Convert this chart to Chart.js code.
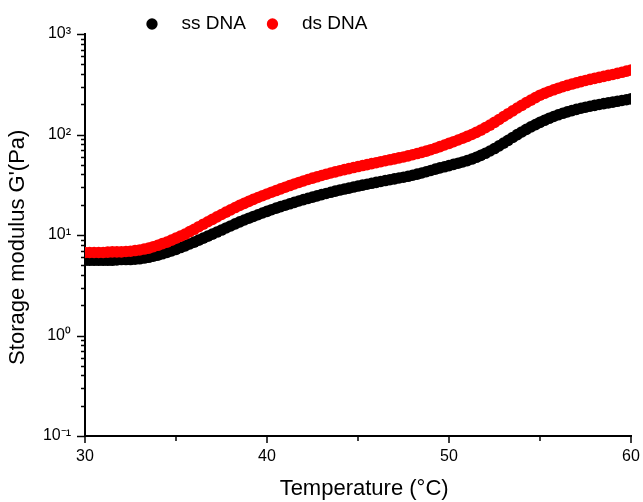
<!DOCTYPE html>
<html lang="en">
<head>
  <meta charset="UTF-8">
  <title>Storage modulus vs temperature</title>
  <script src="https://cdn.jsdelivr.net/npm/chart.js"></script>
  <style>
    body {
      margin: 0;
      padding: 0;
      background: #fff;
    }
    canvas {
      display: block;
    }
  </style>
</head>
<body>
  <canvas id="chart" width="643" height="502"></canvas>

  <script>
    // Temperature sweep (°C)
    const temps = [
      30, 30.25, 30.5, 30.75, 31, 31.25, 31.5, 31.75, 32, 32.25,
      32.5, 32.75, 33, 33.25, 33.5, 33.75, 34, 34.25, 34.5, 34.75,
      35, 35.25, 35.5, 35.75, 36, 36.25, 36.5, 36.75, 37, 37.25,
      37.5, 37.75, 38, 38.25, 38.5, 38.75, 39, 39.25, 39.5, 39.75,
      40, 40.25, 40.5, 40.75, 41, 41.25, 41.5, 41.75, 42, 42.25,
      42.5, 42.75, 43, 43.25, 43.5, 43.75, 44, 44.25, 44.5, 44.75,
      45, 45.25, 45.5, 45.75, 46, 46.25, 46.5, 46.75, 47, 47.25,
      47.5, 47.75, 48, 48.25, 48.5, 48.75, 49, 49.25, 49.5, 49.75,
      50, 50.25, 50.5, 50.75, 51, 51.25, 51.5, 51.75, 52, 52.25,
      52.5, 52.75, 53, 53.25, 53.5, 53.75, 54, 54.25, 54.5, 54.75,
      55, 55.25, 55.5, 55.75, 56, 56.25, 56.5, 56.75, 57, 57.25,
      57.5, 57.75, 58, 58.25, 58.5, 58.75, 59, 59.25, 59.5, 59.75,
      60
    ];

    // G' (Pa), single-stranded DNA
    const ssDNA = [
      5.6, 5.6, 5.6, 5.6, 5.6, 5.6, 5.6, 5.65, 5.7, 5.7,
      5.7, 5.75, 5.8, 5.9, 6.0, 6.15, 6.3, 6.5, 6.7, 6.95,
      7.2, 7.5, 7.8, 8.15, 8.5, 8.9, 9.3, 9.75, 10.2, 10.7,
      11.2, 11.75, 12.3, 12.9, 13.5, 14.1, 14.7, 15.3, 15.9, 16.55,
      17.2, 17.85, 18.5, 19.15, 19.8, 20.45, 21.1, 21.8, 22.5, 23.15,
      23.8, 24.5, 25.2, 25.9, 26.6, 27.3, 28.0, 28.65, 29.3, 30.0,
      30.7, 31.35, 32.0, 32.7, 33.4, 34.1, 34.8, 35.5, 36.2, 36.9,
      37.6, 38.4, 39.3, 40.3, 41.4, 42.6, 43.9, 45.2, 46.5, 47.7,
      49.0, 50.4, 51.8, 53.3, 55.0, 57.0, 59.3, 62, 65, 68.5,
      72.5, 77, 82, 87.5, 93.5, 99.7, 106, 112.5, 119, 125.5,
      132, 138.5, 145, 151, 157, 162.5, 168, 173, 178, 182.5,
      187, 191, 195, 199, 203, 206.5, 210, 214, 218, 222,
      226
    ];

    // G' (Pa), double-stranded DNA
    const dsDNA = [
      6.7, 6.7, 6.7, 6.7, 6.7, 6.75, 6.8, 6.8, 6.8, 6.85,
      6.9, 7.0, 7.1, 7.25, 7.4, 7.65, 7.9, 8.2, 8.5, 8.9,
      9.3, 9.75, 10.2, 10.8, 11.4, 12.1, 12.8, 13.55, 14.3, 15.15,
      16.0, 16.9, 17.8, 18.75, 19.7, 20.65, 21.6, 22.6, 23.6, 24.6,
      25.6, 26.65, 27.7, 28.8, 29.9, 31.05, 32.2, 33.35, 34.5, 35.65,
      36.8, 37.95, 39.1, 40.25, 41.4, 42.5, 43.6, 44.7, 45.8, 46.9,
      48.0, 49.1, 50.2, 51.3, 52.4, 53.6, 54.8, 56.0, 57.2, 58.5,
      59.8, 61.3, 62.9, 64.6, 66.4, 68.4, 70.6, 73.0, 75.7, 78.6,
      81.6, 84.8, 88.2, 91.8, 95.7, 100, 105, 110.5, 117, 124,
      132, 141, 151, 161, 172, 183.5, 195, 207.5, 220, 233,
      246, 257, 268, 278.5, 289, 298.5, 308, 317.5, 327, 336,
      345, 353.5, 362, 370.5, 379, 387.5, 396, 406, 416, 427,
      438
    ];

    const xTicks = [30, 40, 50, 60];
    const xMinorTicks = [35, 45, 55];
    const yLabels = { '-1': '10⁻¹', '0': '10⁰', '1': '10¹', '2': '10²', '3': '10³' };

    const FONT = "'Liberation Sans', Arial, sans-serif";

    function points(values) {
      return temps.map((t, i) => ({ x: t, y: values[i] }));
    }

    // pin legend box and plot area, and draw the outward tick marks
    const frame = {
      id: 'frame',
      afterInit(chart) {
        const legend = chart.legend;
        const fit = legend.fit;
        legend.fit = function () {
          fit.call(this);
          this.height = 34;
        };
      },
      afterLayout(chart) {
        chart.legend.left = 125.5;
        chart.legend.top = -2.5;
      },
      afterDraw(chart) {
        const ctx = chart.ctx;
        const xs = chart.scales.x;
        const ys = chart.scales.y;
        const area = chart.chartArea;
        ctx.save();
        ctx.strokeStyle = '#000';
        ctx.lineWidth = 1.5;
        ctx.beginPath();
        xTicks.concat(xMinorTicks).forEach(v => {
          const px = Math.round(xs.getPixelForValue(v));
          const len = xTicks.includes(v) ? 7 : 5;
          ctx.moveTo(px, area.bottom);
          ctx.lineTo(px, area.bottom + len);
        });
        for (let e = -1; e <= 3; e++) {
          const steps = e === 3 ? 1 : 9;
          for (let m = 1; m <= steps; m++) {
            const v = m * Math.pow(10, e);
            const py = Math.round(ys.getPixelForValue(v)) + 0.5;
            const len = m === 1 ? 8 : 4;
            ctx.moveTo(area.left, py);
            ctx.lineTo(area.left - len, py);
          }
        }
        ctx.stroke();
        ctx.restore();
      }
    };

    new Chart(document.getElementById('chart'), {
      type: 'scatter',
      data: {
        datasets: [
          {
            label: 'ss DNA',
            data: points(ssDNA),
            backgroundColor: '#000000',
            borderWidth: 0,
            pointRadius: 5.8,
            order: 2
          },
          {
            label: 'ds DNA',
            data: points(dsDNA),
            backgroundColor: '#ff0000',
            borderWidth: 0,
            pointRadius: 5.8,
            order: 1
          }
        ]
      },
      options: {
        responsive: false,
        animation: false,
        layout: {
          padding: { left: 0, right: 12, top: 0, bottom: 0 }
        },
        plugins: {
          tooltip: { enabled: false },
          legend: {
            display: true,
            position: 'top',
            align: 'start',
            labels: {
              usePointStyle: true,
              pointStyle: 'circle',
              boxHeight: 8,
              padding: 17,
              color: '#000',
              font: { family: FONT, size: 19 },
              sort: (a, b) => a.datasetIndex - b.datasetIndex,
              generateLabels: chart =>
                Chart.defaults.plugins.legend.labels.generateLabels(chart)
                  .map(item => ({ ...item, text: '  ' + item.text, lineWidth: 0 }))
            }
          }
        },
        scales: {
          x: {
            type: 'linear',
            min: 30,
            max: 60,
            afterFit: scale => {
              scale.height = 66;
              scale.paddingLeft = 0;
              scale.paddingRight = 0;
            },
            afterBuildTicks: scale => {
              scale.ticks = xTicks.map(v => ({ value: v }));
            },
            grid: { display: false, drawTicks: false },
            border: { display: true, color: '#000', width: 2 },
            ticks: {
              padding: 11,
              color: '#000',
              font: { family: FONT, size: 16 },
              maxRotation: 0
            },
            title: {
              display: true,
              text: '  Temperature (°C)',
              color: '#000',
              font: { family: FONT, size: 22 },
              padding: { top: 0, bottom: 0 }
            }
          },
          y: {
            type: 'logarithmic',
            min: 0.1,
            max: 1000,
            afterFit: scale => { scale.width = 85; },
            afterBuildTicks: scale => {
              scale.ticks = Object.keys(yLabels).map(e => ({ value: Math.pow(10, Number(e)) }));
            },
            grid: { display: false, drawTicks: false },
            border: { display: true, color: '#000', width: 2 },
            ticks: {
              padding: 14,
              color: '#000',
              autoSkip: false,
              font: { family: FONT, size: 16 },
              callback: value => yLabels[String(Math.round(Math.log10(value)))]
            },
            title: {
              display: true,
              text: "Storage modulus G'(Pa)    ",
              color: '#000',
              font: { family: FONT, size: 22 },
              padding: { top: 5, bottom: 0 }
            }
          }
        }
      },
      plugins: [frame]
    });
  </script>
</body>
</html>
